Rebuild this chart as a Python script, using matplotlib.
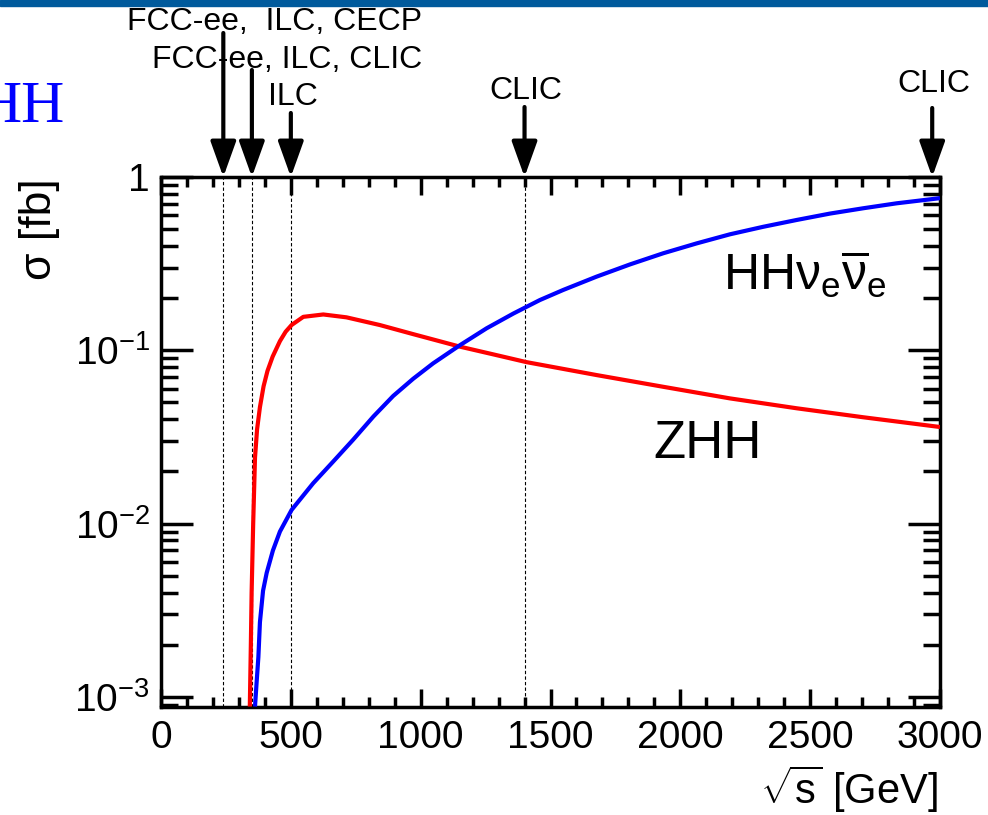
import numpy as np
import matplotlib
matplotlib.use("Agg")
import matplotlib.pyplot as plt
from matplotlib.patches import Rectangle
from matplotlib.ticker import LogLocator, NullFormatter, FuncFormatter, MultipleLocator

plt.rcParams['font.family'] = ['Liberation Sans', 'DejaVu Sans']
plt.rcParams['mathtext.fontset'] = 'custom'
plt.rcParams['mathtext.rm'] = 'Liberation Sans'
plt.rcParams['mathtext.it'] = 'Liberation Sans:italic'
plt.rcParams['mathtext.bf'] = 'Liberation Sans:bold'

# ---- data (sqrt(s) in GeV, sigma in fb)
zhh_sqrts = [342, 346, 349, 355, 362, 370, 381, 395, 410, 430, 458, 480, 503, 548,
             625, 714, 842, 971, 1151, 1279, 1407, 1677, 1934, 2191, 2448, 2704, 3000]
zhh_sigma = [0.00088, 0.002, 0.004, 0.010, 0.024, 0.035, 0.047, 0.062, 0.076, 0.092,
             0.113, 0.128, 0.140, 0.156, 0.161, 0.155, 0.140, 0.124, 0.105, 0.0948,
             0.0855, 0.0720, 0.0616, 0.0528, 0.0463, 0.0411, 0.0361]

hhnn_sqrts = [362, 368, 375, 381, 393, 407, 431, 458, 503, 586, 663, 740, 818, 894,
              971, 1048, 1151, 1254, 1357, 1459, 1549, 1677, 1806, 1934, 2063, 2191,
              2319, 2448, 2576, 2704, 2833, 3000]
hhnn_sigma = [0.00088, 0.0012, 0.0017, 0.0027, 0.0041, 0.0052, 0.0070, 0.0090, 0.0120,
              0.0171, 0.0228, 0.0305, 0.0415, 0.0545, 0.0685, 0.0841, 0.107, 0.134,
              0.163, 0.195, 0.223, 0.266, 0.313, 0.363, 0.414, 0.467, 0.516, 0.565,
              0.615, 0.660, 0.705, 0.755]

# collider energies (dotted lines) and arrow positions
line_energy = [240, 350, 500, 1400]
arrow_x = [240, 350, 500, 1400, 2970]
arrow_len_px = [144, 107, 64, 70, 69]
coll_labels = ["FCC-ee,  ILC, CECP", "FCC-ee, ILC, CLIC", "ILC", "CLIC", "CLIC"]
label_pos_px = [(275, 22), (287, 60), (293, 97), (526, 91), (934, 84)]

W, H = 988, 815
fig = plt.figure(figsize=(W / 100, H / 100), dpi=100)
ax = fig.add_axes([161 / W, 1 - 707 / H, 779 / W, 530 / H])

# slide header bar + cut off title
fig.patches.append(Rectangle((0, 1 - 6 / H), 1, 6 / H, transform=fig.transFigure,
                             color="#005a9c", zorder=0))
fig.text(64 / W, 1 - 122 / H, "HH", color="#0000ff", fontsize=43,
         family=["Liberation Serif", "DejaVu Serif"], ha="right", va="baseline")

# ---- curves
ax.plot(zhh_sqrts, zhh_sigma, color="#ff0000", lw=3, solid_capstyle="butt",
        solid_joinstyle="round", zorder=3)
ax.plot(hhnn_sqrts, hhnn_sigma, color="#0000ff", lw=3, solid_capstyle="butt",
        solid_joinstyle="round", zorder=3)

ax.set_yscale("log")
ax.set_xlim(0, 3000)
ax.set_ylim(0.000875, 1)

for e in line_energy:
    ax.axvline(e, color="k", lw=0.8, ls=(0, (3, 2)), zorder=1)

# arrows from above
for e, L in zip(arrow_x, arrow_len_px):
    ax.annotate("", xy=(e, 1.0), xycoords=("data", "axes fraction"),
                xytext=(0, L), textcoords="offset pixels",
                arrowprops=dict(arrowstyle="-|>,head_length=1.45,head_width=0.52",
                                mutation_scale=15, lw=3, color="k",
                                shrinkA=0, shrinkB=0),
                annotation_clip=False)

for t, (px, py) in zip(coll_labels, label_pos_px):
    fig.text(px / W, 1 - py / H, t, fontsize=23, ha="center", va="center")

# curve labels
fig.text(723 / W, 1 - 290 / H, r"HH$\mathregular{\nu_{e}\overline{\nu}_{e}}$",
         fontsize=36, ha="left", va="baseline")
fig.text(653 / W, 1 - 458 / H, "ZHH", fontsize=38, ha="left", va="baseline")

# ---- axes styling (ROOT look)
for s in ax.spines.values():
    s.set_linewidth(2.5)
ax.xaxis.set_major_locator(MultipleLocator(500))
ax.xaxis.set_minor_locator(MultipleLocator(100))
ax.yaxis.set_major_locator(LogLocator(base=10, numticks=10))
ax.yaxis.set_minor_locator(LogLocator(base=10, subs=np.arange(2, 10), numticks=20))
ax.yaxis.set_minor_formatter(NullFormatter())


def yfmt(v, pos):
    if abs(v - 1) < 1e-9:
        return "1"
    return r"$\mathregular{10^{%d}}$" % int(round(np.log10(v)))


ax.yaxis.set_major_formatter(FuncFormatter(yfmt))
ax.tick_params(which="both", direction="in", top=True, right=True, width=2.5,
               labelsize=28)
ax.tick_params(axis="x", which="major", length=13, pad=9)
ax.tick_params(axis="x", which="minor", length=7)
ax.tick_params(axis="y", which="major", length=23, pad=8)
ax.tick_params(axis="y", which="minor", length=12)

fig.text(938 / W, 1 - 804 / H, r"$\sqrt{\mathregular{s}}$ [GeV]", fontsize=30,
         ha="right", va="baseline")
fig.text(40 / W, 1 - 178 / H, "σ [fb]", fontsize=32, rotation=90,
         ha="center", va="top")

fig.savefig("out.png", dpi=100)
